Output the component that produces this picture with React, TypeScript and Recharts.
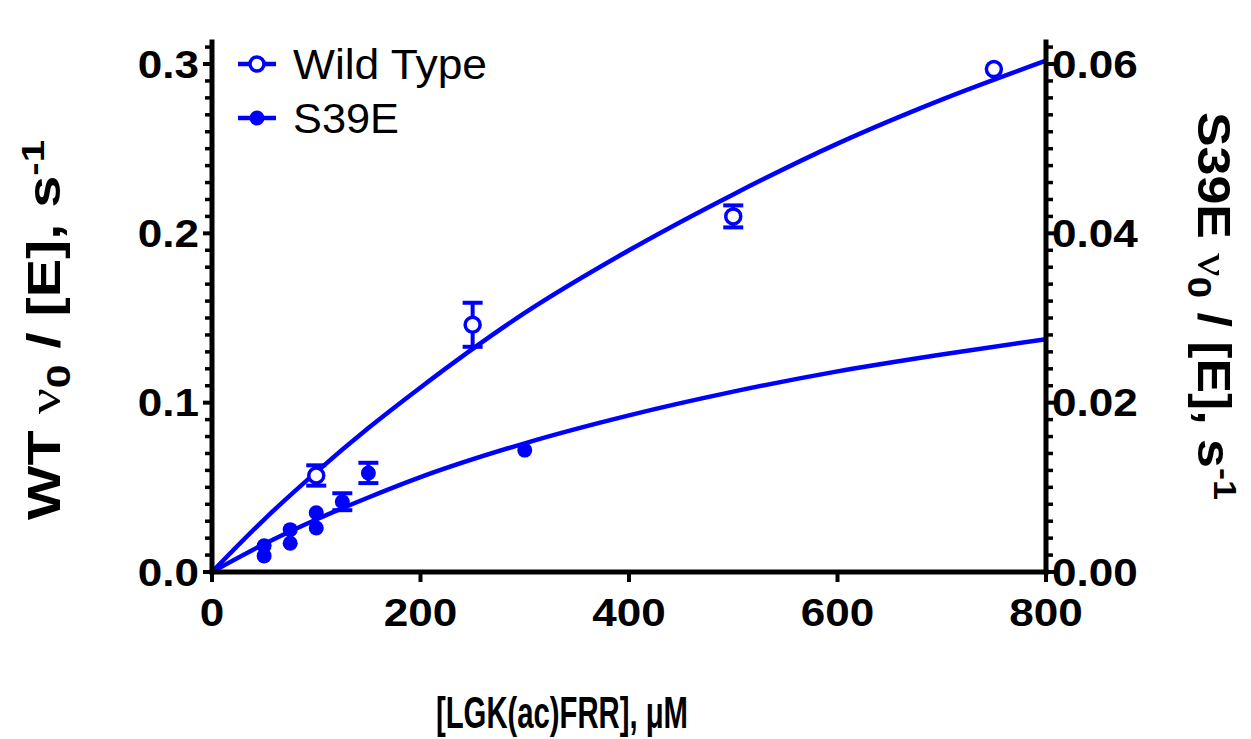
import React from 'react';
import { ComposedChart, Line, Scatter, XAxis, YAxis, ErrorBar, Legend } from 'recharts';

// substrate concentration, µM
const wtConc = [100, 250, 500, 750];
const wtRate = [0.057, 0.146, 0.21, 0.297];
const wtErr = [0.006, 0.013, 0.0065, null];

const s39Conc = [50, 50, 75, 75, 100, 100, 125, 150, 300];
const s39Rate = [0.0031, 0.0019, 0.005, 0.0034, 0.007, 0.0052, 0.0083, 0.0117, 0.0144];
const s39Err = [null, null, null, null, null, null, 0.001, 0.0012, null];

// fitted curves
const fitConc = [0, 50, 100, 150, 200, 300, 400, 500, 600, 700, 800];
const wtFit = [0, 0.031, 0.059, 0.085, 0.109, 0.153, 0.19, 0.223, 0.253, 0.279, 0.302];
const s39Fit = [0, 0.0033, 0.0062, 0.0088, 0.0112, 0.0152, 0.0185, 0.0213, 0.0237, 0.0257, 0.0275];

const seriesNames = ['Wild Type', 'S39E'];
const xTicks = [0, 200, 400, 600, 800];
const leftMajor = [0, 0.1, 0.2, 0.3];
const rightMajor = [0, 0.02, 0.04, 0.06];
const leftTicks = Array.from({ length: 32 }, (_, i) => +(i * 0.01).toFixed(2));
const rightTicks = Array.from({ length: 32 }, (_, i) => +(i * 0.002).toFixed(3));

const BLUE = '#0000ff';
const FONT = '"Liberation Sans", Arial, sans-serif';
const TICK_SIZE = 39;

const wtPoints = wtConc.map((x, i) => ({ x, y: wtRate[i], err: wtErr[i] }));
const s39Points = s39Conc.map((x, i) => ({ x, y: s39Rate[i], err: s39Err[i] }));
const wtLine = fitConc.map((x, i) => ({ x, y: wtFit[i] }));
const s39Line = fitConc.map((x, i) => ({ x, y: s39Fit[i] }));

const isMajor = (list: number[], v: number) => list.some((m) => Math.abs(m - v) < 1e-9);

// Arial-bold advance widths, stretched a little like the source figure
const labelWidth = (s: string) =>
  s.split('').reduce((w, c) => w + (c === '.' ? 0.278 : 0.556), 0) * TICK_SIZE * 1.13;

const TickText = ({ x, y, anchor, label, base }: any) => (
  <text
    x={x}
    y={y}
    textAnchor={anchor}
    dominantBaseline={base}
    fontFamily={FONT}
    fontWeight="bold"
    fontSize={TICK_SIZE}
    fill="#000"
    textLength={labelWidth(label)}
    lengthAdjust="spacingAndGlyphs"
  >
    {label}
  </text>
);

const LeftTick = (props: any) => {
  const { x, y, payload } = props;
  const major = isMajor(leftMajor, payload.value);
  return (
    <g>
      <line x1={x} x2={x - (major ? 9 : 7)} y1={y} y2={y} stroke="#000" strokeWidth={major ? 4 : 3.5} />
      {major && <TickText x={x - 13} y={y} anchor="end" base="central" label={payload.value.toFixed(1)} />}
    </g>
  );
};

const RightTick = (props: any) => {
  const { x, y, payload } = props;
  const major = isMajor(rightMajor, payload.value);
  return (
    <g>
      <line x1={x} x2={x + (major ? 9 : 7)} y1={y} y2={y} stroke="#000" strokeWidth={major ? 4 : 3.5} />
      {major && <TickText x={x + 6} y={y} anchor="start" base="central" label={payload.value.toFixed(2)} />}
    </g>
  );
};

const BottomTick = (props: any) => {
  const { x, y, payload } = props;
  return (
    <g>
      <line x1={x} x2={x} y1={y} y2={y + 10} stroke="#000" strokeWidth={4} />
      <TickText x={x} y={y + 54} anchor="middle" base="auto" label={String(payload.value)} />
    </g>
  );
};

const OpenDot = (props: any) => (
  <circle cx={props.cx} cy={props.cy} r={7.5} fill="#fff" stroke={BLUE} strokeWidth={3.5} />
);
const FilledDot = (props: any) => <circle cx={props.cx} cy={props.cy} r={7.5} fill={BLUE} />;

const RateTitle = ({ prefix, transform, length }: any) => (
  <text
    transform={transform}
    textAnchor="middle"
    fontFamily={FONT}
    fontWeight="bold"
    fontSize={46}
    fill="#000"
    textLength={length}
    lengthAdjust="spacingAndGlyphs"
  >
    <tspan>{prefix} </tspan>
    <tspan fontFamily='"Liberation Serif", serif' fontWeight="normal">ν</tspan>
    <tspan dy={10} fontSize={34}>0</tspan>
    <tspan dy={-10}> / [E], s</tspan>
    <tspan dy={-16} fontSize={32}>-1</tspan>
  </text>
);

const LeftTitle = () => <RateTitle prefix="WT" transform="translate(52, 322) rotate(-90)" length={380} />;
const RightTitle = () => <RateTitle prefix="S39E" transform="translate(1190, 298) rotate(90)" length={388} />;

const BottomTitle = () => (
  <text
    x={554}
    y={720}
    textAnchor="middle"
    fontFamily={FONT}
    fontWeight="bold"
    fontSize={45}
    fill="#000"
    textLength={252}
    lengthAdjust="spacingAndGlyphs"
  >
    [LGK(ac)FRR], μM
  </text>
);

const LegendBox = () => (
  <svg width={320} height={120} style={{ display: 'block', overflow: 'visible' }}>
    {seriesNames.map((name, i) => {
      const cy = 30 + i * 54;
      return (
        <g key={name}>
          <line x1={10} x2={48} y1={cy} y2={cy} stroke={BLUE} strokeWidth={4.5} />
          {i === 0 ? (
            <circle cx={29} cy={cy} r={7} fill="#fff" stroke={BLUE} strokeWidth={3.5} />
          ) : (
            <circle cx={29} cy={cy} r={7.5} fill={BLUE} />
          )}
          <text
            x={65}
            y={cy}
            dominantBaseline="central"
            fontFamily={FONT}
            fontSize={42}
            fill="#000"
            textLength={i === 0 ? 194 : 106}
            lengthAdjust="spacingAndGlyphs"
          >
            {name}
          </text>
        </g>
      );
    })}
  </svg>
);

const axisStyle = { stroke: '#000', strokeWidth: 5, strokeLinecap: 'square' as const };

export default function App() {
  return (
    <div style={{ width: 1243, height: 731, fontFamily: FONT }}>
      <ComposedChart width={1243} height={731} margin={{ top: 34, right: 0, bottom: 0, left: 0 }}>
        <XAxis
          type="number"
          dataKey="x"
          domain={[0, 800]}
          ticks={xTicks}
          interval={0}
          allowDataOverflow
          height={167}
          tickSize={0}
          tickMargin={0}
          tickLine={false}
          tick={<BottomTick />}
          axisLine={axisStyle}
          label={<BottomTitle />}
        />
        <YAxis
          yAxisId="left"
          type="number"
          dataKey="y"
          domain={[0, 0.313]}
          ticks={leftTicks}
          interval={0}
          allowDataOverflow
          width={204}
          tickSize={0}
          tickMargin={0}
          tickLine={false}
          tick={<LeftTick />}
          axisLine={axisStyle}
          label={<LeftTitle />}
        />
        <YAxis
          yAxisId="right"
          orientation="right"
          type="number"
          dataKey="y"
          domain={[0, 0.0626]}
          ticks={rightTicks}
          interval={0}
          allowDataOverflow
          width={205}
          tickSize={0}
          tickMargin={0}
          tickLine={false}
          tick={<RightTick />}
          axisLine={axisStyle}
          label={<RightTitle />}
        />
        <Legend
          layout="vertical"
          align="center"
          verticalAlign="middle"
          wrapperStyle={{ left: 220, top: 26, width: 320, height: 120 }}
          content={() => <LegendBox />}
        />
        <Line
          yAxisId="left"
          data={wtLine}
          dataKey="y"
          type="monotone"
          stroke={BLUE}
          strokeWidth={4.5}
          dot={false}
          activeDot={false}
          isAnimationActive={false}
          legendType="none"
        />
        <Line
          yAxisId="right"
          data={s39Line}
          dataKey="y"
          type="monotone"
          stroke={BLUE}
          strokeWidth={4.5}
          dot={false}
          activeDot={false}
          isAnimationActive={false}
          legendType="none"
        />
        <Scatter yAxisId="left" name={seriesNames[0]} data={wtPoints} dataKey="y" shape={<OpenDot />} isAnimationActive={false}>
          <ErrorBar dataKey="err" direction="y" width={10} stroke={BLUE} strokeWidth={4} isAnimationActive={false} />
        </Scatter>
        <Scatter yAxisId="right" name={seriesNames[1]} data={s39Points} dataKey="y" shape={<FilledDot />} isAnimationActive={false}>
          <ErrorBar dataKey="err" direction="y" width={10} stroke={BLUE} strokeWidth={4} isAnimationActive={false} />
        </Scatter>
      </ComposedChart>
    </div>
  );
}
